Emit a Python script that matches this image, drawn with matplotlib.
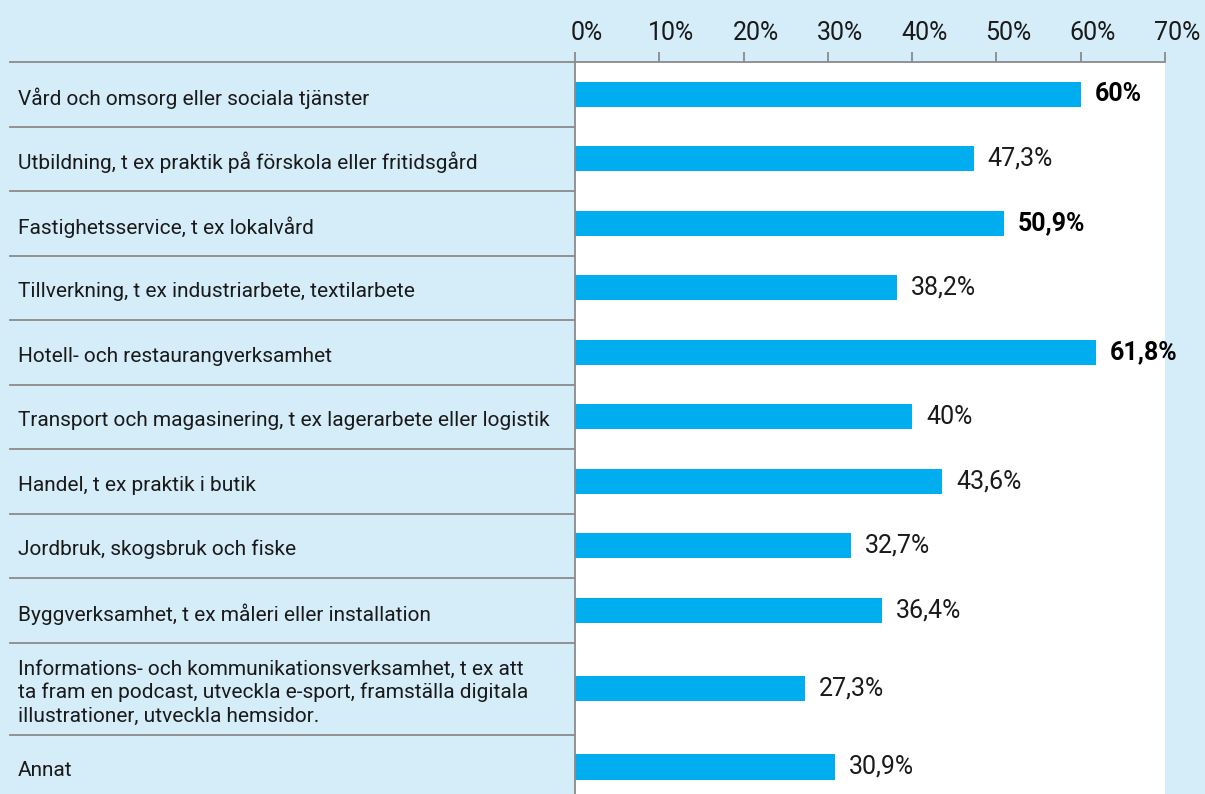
import matplotlib.pyplot as plt
import matplotlib.transforms as mtransforms
from matplotlib.ticker import FuncFormatter

# Data
categories = [
    'Vård och omsorg eller sociala tjänster',
    'Utbildning, t ex praktik på förskola eller fritidsgård',
    'Fastighetsservice, t ex lokalvård',
    'Tillverkning, t ex industriarbete, textilarbete',
    'Hotell- och restaurangverksamhet',
    'Transport och magasinering, t ex lagerarbete eller logistik',
    'Handel, t ex praktik i butik',
    'Jordbruk, skogsbruk och fiske',
    'Byggverksamhet, t ex måleri eller installation',
    'Informations- och kommunikationsverksamhet, t ex att\n'
    'ta fram en podcast, utveckla e-sport, framställa digitala\n'
    'illustrationer, utveckla hemsidor.',
    'Annat',
]
values = [60, 47.3, 50.9, 38.2, 61.8, 40, 43.6, 32.7, 36.4, 27.3, 30.9]
value_labels = ['60%', '47,3%', '50,9%', '38,2%', '61,8%', '40%', '43,6%',
                '32,7%', '36,4%', '27,3%', '30,9%']
bold_labels = [True, False, True, False, True, False, False, False, False, False, False]
xticks = [0, 10, 20, 30, 40, 50, 60, 70]

# Layout
W, H = 1205, 794
BG = '#d5ecf9'
BAR = '#00aeef'
GRID = '#8a8a8a'
row_heights = [1] * 9 + [1.43, 1]

plt.rcParams['font.family'] = ['Roboto', 'DejaVu Sans']

fig = plt.figure(figsize=(W / 100, H / 100), dpi=100, facecolor=BG)

top_px = 62
ax_h = (H - top_px) / H
row_px = 64.5
ylim = (H - top_px) / row_px

# row boundaries and centres
bounds = [0]
for h in row_heights:
    bounds.append(bounds[-1] + h)
centres = [(bounds[i] + bounds[i + 1]) / 2 for i in range(len(row_heights))]

# left label panel
ax_l = fig.add_axes([0, 0, 575 / W, ax_h])
ax_l.set_facecolor(BG)
ax_l.set_xlim(0, 575)
ax_l.set_ylim(ylim, 0)
ax_l.axis('off')
for b in bounds[:-1]:
    ax_l.plot([10, 575], [b, b], color=GRID, lw=1.3, clip_on=False)
for c, lab in zip(centres, categories):
    ax_l.text(18, c + 0.06, lab, va='center', ha='left', fontsize=15,
              color='#1a1a1a', linespacing=1.28)

# main bar area
ax = fig.add_axes([575 / W, 0, 590 / W, ax_h])
ax.set_facecolor('white')
ax.barh(centres, values, height=0.39, color=BAR)
ax.set_xlim(0, 70)
ax.set_ylim(ylim, 0)
for sp in ['right', 'bottom']:
    ax.spines[sp].set_visible(False)
for sp in ['top', 'left']:
    ax.spines[sp].set_color(GRID)
    ax.spines[sp].set_linewidth(1.3)
ax.set_yticks([])
ax.xaxis.tick_top()
ax.set_xticks(xticks)
ax.xaxis.set_major_formatter(FuncFormatter(lambda v, p: f'{int(v)}%'))
ax.tick_params(axis='x', length=7, width=1.3, color=GRID, labelsize=18,
               labelcolor='#1a1a1a', pad=5)
shift = mtransforms.ScaledTranslation(12 / 100, 0, fig.dpi_scale_trans)
for t in ax.get_xticklabels():
    t.set_transform(t.get_transform() + shift)

for c, v, lab, b in zip(centres, values, value_labels, bold_labels):
    ax.annotate(lab, (v, c), xytext=(10, 0), textcoords='offset points',
                va='center', ha='left', fontsize=18, color='black' if b else '#1a1a1a',
                fontweight='bold' if b else 'normal', annotation_clip=False)

fig.savefig('out.png', dpi=100, facecolor=BG)
